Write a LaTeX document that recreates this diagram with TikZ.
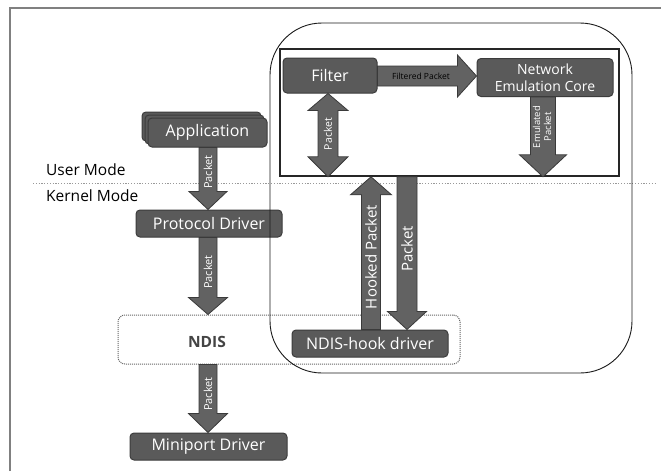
\documentclass[tikz,border=0pt]{standalone}
\usepackage{fontspec}
\setmainfont{Open Sans}
\usetikzlibrary{calc}
\definecolor{boxfill}{HTML}{5A5A5A}
\definecolor{boxedge}{HTML}{3C3C3C}
\definecolor{arrfill}{HTML}{626262}
\definecolor{arredge}{HTML}{3A3A3A}
\definecolor{framegray}{HTML}{808080}
\definecolor{ndistext}{HTML}{444444}

\tikzset{
 darkbox/.style={draw=boxedge, line width=1pt, fill=boxfill, rounded corners=4pt, text=white,
   font=\fontsize{16}{18}\selectfont, inner sep=0pt, align=center},
 arrowbody/.style={fill=arrfill, draw=arredge, line width=0.8pt, line join=miter},
 lbl/.style={text=white, font=\fontsize{11}{11}\selectfont, inner sep=0pt, rotate=90},
 biglbl/.style={text=white, font=\fontsize{15}{16}\selectfont, inner sep=0pt, rotate=90},
 modetext/.style={font=\fontsize{15.5}{17}\selectfont, anchor=west, inner sep=0pt},
}

% vertical single arrow: #1 x (px), #2 from, #3 to (tip), #4 half shaft, #5 half head, #6 head length
\newcommand\varr[6]{%
 \path[arrowbody] let \p1=(#2), \p2=(#3), \n1={ifthenelse(\y1>\y2,1,-1)} in
  ({#1pt-#4pt},\y1) -- ({#1pt+#4pt},\y1) -- ({#1pt+#4pt},{\y2+\n1*#6pt})
  -- ({#1pt+#5pt},{\y2+\n1*#6pt}) -- (#1pt,\y2) -- ({#1pt-#5pt},{\y2+\n1*#6pt})
  -- ({#1pt-#4pt},{\y2+\n1*#6pt}) -- cycle;}

\begin{document}
\begin{tikzpicture}[x=1pt,y=-1pt]
\useasboundingbox (0,0) rectangle (661,471);

% outer frame (top and left edges)
\draw[framegray, line width=2pt] (9.5,471) -- (9.5,8) -- (661,8);

% user / kernel separator
\coordinate (sepL) at (33,183);
\coordinate (sepR) at (656,183);
\draw[gray!80, line width=1pt, dash pattern=on 1.2pt off 1.6pt] (sepL) -- (sepR);
\node[modetext] (user) at (46,170) {User Mode};
\node[modetext] (kernel) at (46,196) {Kernel Mode};

% inner rectangle (user-mode part)
\node[draw=black!85, line width=1.6pt, minimum width=339pt, minimum height=127pt, inner sep=0pt] (inner) at (449.5,112.5) {};

% NDIS box
\node[draw=black!60, dash pattern=on 1pt off 1pt, line width=1pt, fill=white, rounded corners=7pt,
  minimum width=342pt, minimum height=49pt, inner sep=0pt] (ndis) at (289,339.5) {};
\node[font=\fontsize{15.5}{17}\selectfont\bfseries, text=ndistext, inner sep=0pt] (ndislabel) at (207,342) {NDIS};

% boxes
\node[darkbox, minimum width=94pt, minimum height=35pt] (filter) at (330,75.5) {Filter};
\node[darkbox, minimum width=136pt, minimum height=38pt, font=\fontsize{14}{17}\selectfont] (nec) at (545,77.5) {Network\\Emulation Core};
\node[darkbox, minimum width=119pt, minimum height=29pt] (appc) at (201.5,126.5) {};
\node[darkbox, minimum width=119pt, minimum height=29pt] (appb) at (204.5,129.5) {};
\node[darkbox, minimum width=119pt, minimum height=29pt] (app) at (207.5,132.5) {Application};
\node[darkbox, minimum width=146pt, minimum height=27pt] (proto) at (209,223.5) {Protocol Driver};
\node[darkbox, minimum width=156pt, minimum height=27pt] (hook) at (370,343.5) {NDIS-hook driver};
\node[darkbox, minimum width=157pt, minimum height=27pt] (mini) at (208.5,446.5) {Miniport Driver};

% left-column arrows
\varr{208}{app.south}{proto.north}{9}{19}{18}
\node[lbl] (l1) at (208,172) {Packet};
\varr{208}{proto.south}{ndis.north}{9}{19.5}{17}
\node[lbl] (l2) at (208,272) {Packet};
\varr{208}{ndis.south}{mini.north}{9}{19.5}{19}
\node[lbl] (l3) at (208,394) {Packet};

% filter double arrow
\path[arrowbody] let \p1=(filter.south), \p2=(inner.south) in
  (328pt,\y1) -- (348pt,{\y1-17pt}) -- (338pt,{\y1-17pt}) -- (338pt,{\y2+20pt})
  -- (348pt,{\y2+20pt}) -- (328pt,\y2) -- (308pt,{\y2+20pt}) -- (318pt,{\y2+20pt})
  -- (318pt,{\y1-17pt}) -- (308pt,{\y1-17pt}) -- cycle;
\node[lbl, font=\fontsize{10.5}{11}\selectfont] (l4) at (328,134) {Packet};

% filtered packet arrow
\path[arrowbody] let \p1=(filter.east), \p2=(nec.west) in
  (\x1,-66pt) -- ({\x2-19pt},-66pt) -- ({\x2-19pt},-55pt) -- (\x2,-76pt)
  -- ({\x2-19pt},-97pt) -- ({\x2-19pt},-86pt) -- (\x1,-86pt) -- cycle;
\node[font=\fontsize{8.5}{9}\selectfont, inner sep=0pt] (l5) at (421,76) {Filtered Packet};

% emulated packet arrow
\varr{543}{nec.south}{inner.south}{12.5}{23.5}{22}
\node[lbl, font=\fontsize{9.5}{11}\selectfont, align=center] (l6) at (542,127) {Emulated\\Packet};

% hooked packet / packet arrows
\varr{371}{hook.north}{inner.south}{9.5}{20.5}{18}
\node[biglbl] (l7) at (371,257) {Hooked Packet};
\varr{407}{inner.south}{hook.north}{10}{19.5}{18}
\node[biglbl] (l8) at (407,249) {Packet};

% big rounded region
\node[draw=black!90, line width=0.9pt, rounded corners=52pt, minimum width=362pt, minimum height=350pt, inner sep=0pt] (region) at (451,198) {};
\end{tikzpicture}
\end{document}
